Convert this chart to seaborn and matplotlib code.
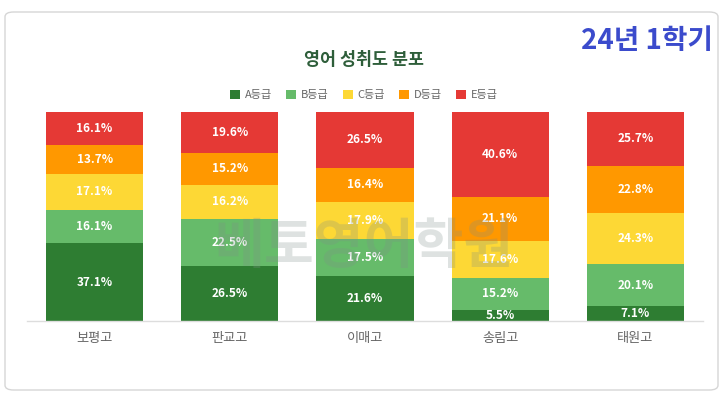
import numpy as np
import matplotlib.pyplot as plt
import seaborn as sns
from matplotlib.patches import Patch, FancyBboxPatch

# data
schools = ['보평고', '판교고', '이매고', '송림고', '태원고']
grades = ['A등급', 'B등급', 'C등급', 'D등급', 'E등급']
a_pct = [37.1, 26.5, 21.6, 5.5, 7.1]
b_pct = [16.1, 22.5, 17.5, 15.2, 20.1]
c_pct = [17.1, 16.2, 17.9, 17.6, 24.3]
d_pct = [13.7, 15.2, 16.4, 21.1, 22.8]
e_pct = [16.1, 19.6, 26.5, 40.6, 25.7]
colors = ['#2e7d32', '#66bb6a', '#fdd835', '#ff9800', '#e53935']

sns.set_theme(style='white')
plt.rcParams['font.family'] = ['Noto Sans CJK KR', 'DejaVu Sans']

W, H = 726, 398
fig = plt.figure(figsize=(W / 100, H / 100), dpi=100)

# card background
card = FancyBboxPatch((5 / W, 1 - 390 / H), 713 / W, 378 / H,
                      boxstyle='round,pad=0,rounding_size=0.012',
                      transform=fig.transFigure, fc='white', ec='#d6d6d6', lw=1,
                      zorder=-10)
fig.patches.append(card)

ax = fig.add_axes([27 / W, 1 - 321 / H, 676 / W, 209 / H])
ax.patch.set_visible(False)

series = [a_pct, b_pct, c_pct, d_pct, e_pct]
tops = np.cumsum(np.array(series), axis=0)

# stacked bars: draw cumulative totals from top grade down
for i in range(len(series) - 1, -1, -1):
    sns.barplot(x=schools, y=tops[i], color=colors[i], saturation=1,
                width=0.72, linewidth=0, ax=ax)

for i, vals in enumerate(series):
    for j, v in enumerate(vals):
        ax.text(j, tops[i][j] - v / 2, f'{v}%', ha='center', va='center',
                color='white', fontsize=8.5, fontweight='bold', zorder=5)

ax.set_xlim(-0.5, 4.5)
ax.set_ylim(0, 100)
ax.set_yticks([])
ax.set_xlabel('')
ax.set_ylabel('')
ax.tick_params(axis='x', length=0, pad=8, labelsize=9.5, labelcolor='#666666')
for s in ['top', 'left', 'right']:
    ax.spines[s].set_visible(False)
ax.spines['bottom'].set_color('#dddddd')
ax.spines['bottom'].set_linewidth(1)

# watermark
fig.text(364 / W, 1 - 247 / H, '베토영어학원', ha='center', va='center',
         fontsize=39, fontweight='bold', color='#7f8f88', alpha=0.25, zorder=4)

fig.text(364 / W, 1 - 60 / H, '영어 성취도 분포', ha='center', va='center',
         fontsize=12.5, fontweight='bold', color='#2e5e3a')
fig.text(713 / W, 1 - 41 / H, '24년 1학기', ha='right', va='center',
         fontsize=20, fontweight='bold', color='#3b4bcc')

handles = [Patch(facecolor=c, edgecolor='none') for c in colors]
fig.legend(handles, grades, loc='center', bbox_to_anchor=(364 / W, 1 - 95 / H),
           ncol=5, frameon=False, fontsize=8, labelcolor='#666666',
           handlelength=0.9, handleheight=0.9, handletextpad=0.4,
           columnspacing=1.3)

fig.savefig('out.png', dpi=100)
